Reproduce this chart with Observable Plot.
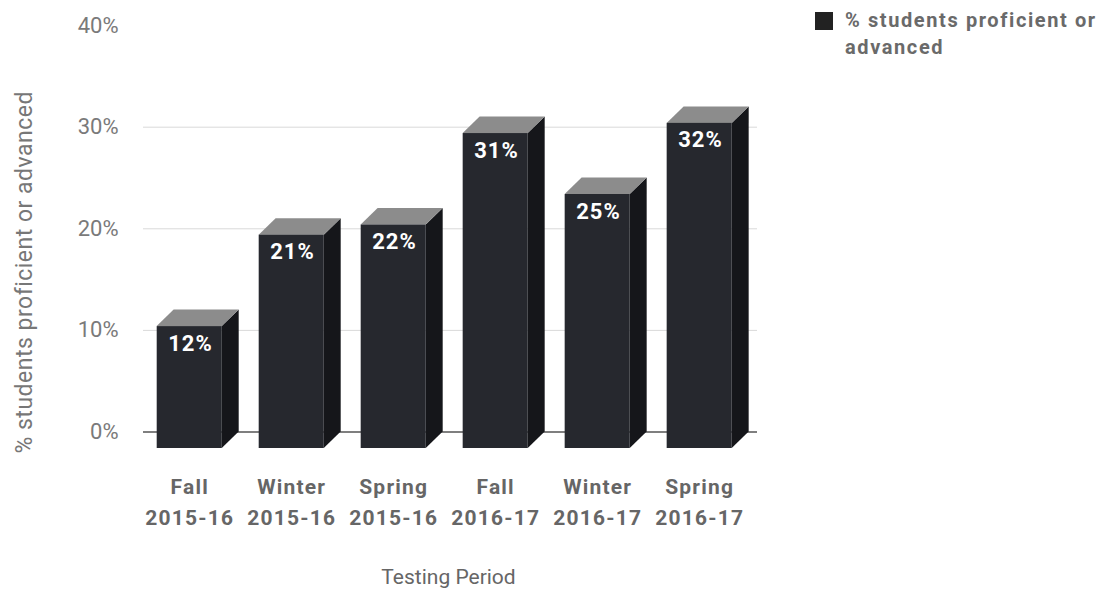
<!DOCTYPE html>
<html>
<head>
<meta charset="utf-8">
<script src="https://cdn.jsdelivr.net/npm/d3@7"></script>
<script src="https://cdn.jsdelivr.net/npm/@observablehq/plot@0.6"></script>
<style>
  body { margin: 0; background: #fff; font-family: Roboto, "Noto Sans", sans-serif; }
  #wrap { position: relative; width: 1108px; height: 591px; overflow: hidden; }
  #legend { position: absolute; left: 815px; top: 7px; display: flex; align-items: flex-start; }
  #legend .sw { width: 18px; height: 18px; background: #222; margin-top: 5px; margin-right: 12px; flex: none; }
  #legend .lbl { font: bold 20px Roboto, sans-serif; color: #6a6a6a; line-height: 27px; width: 280px; letter-spacing: 1.6px; }
  .xlab text { letter-spacing: 1.2px; }
  .ytitle text { letter-spacing: 0.5px; }
  .vlab text { letter-spacing: 1px; }
</style>
</head>
<body>
<div id="wrap">
  <div id="chart"></div>
  <div id="legend"><div class="sw"></div><div class="lbl">% students proficient or<br>advanced</div></div>
</div>
<script>
// ---- data ----
const seasons = ["Fall", "Winter", "Spring", "Fall", "Winter", "Spring"];
const years = ["2015-16", "2015-16", "2015-16", "2016-17", "2016-17", "2016-17"];
const values = [12, 21, 22, 31, 25, 32];
const yTicks = [0, 10, 20, 30, 40];
const gridTicks = [10, 20, 30];
const yTitle = "% students proficient or advanced";
const xTitle = "Testing Period";

// ---- 3D geometry (in scale units) ----
const HW = 0.319;   // half width of front face
const DX = 0.166;   // depth offset along x
const DY = 1.62;    // depth offset along y
const PX = 17, PY = -16.5; // same depth in pixels for grid/axis

const rows = values.map((v, i) => ({i, v, season: seasons[i], year: years[i]}));

const topPts = rows.flatMap(d => {
  const l = d.i - HW, r = d.i + HW;
  return [
    {i: d.i, x: l, y1: d.v, y2: d.v},
    {i: d.i, x: l + DX, y1: d.v, y2: d.v + DY},
    {i: d.i, x: r, y1: d.v, y2: d.v + DY},
    {i: d.i, x: r + DX, y1: d.v + DY, y2: d.v + DY}
  ];
});
const sidePts = rows.flatMap(d => {
  const r = d.i + HW;
  return [
    {i: d.i, x: r, y1: 0, y2: d.v},
    {i: d.i, x: r + DX, y1: DY, y2: d.v + DY}
  ];
});

const FRONT = "#26282e", TOP = "#8c8c8c", SIDE = "#15161a";

const chart = Plot.plot({
  width: 1108,
  height: 591,
  marginLeft: 126,
  marginRight: 368,
  marginTop: 41.6,
  marginBottom: 143,
  style: {fontFamily: "Roboto, sans-serif", background: "white"},
  x: {domain: [-0.62, 5.4], axis: null},
  y: {domain: [0, 40], axis: null},
  marks: [
    Plot.gridY(gridTicks, {dx: PX, dy: PY, stroke: "#d9d9d9", strokeOpacity: 1}),
    Plot.ruleY([0], {dx: PX, dy: PY, stroke: "#555", strokeWidth: 1.5}),
    Plot.axisY(yTicks, {
      tickFormat: d => d + "%", tickSize: 0, tickPadding: 8, dy: PY,
      fontSize: 22, fill: "#7a7a7a", label: null
    }),
    Plot.text([yTitle], {
      frameAnchor: "left", textAnchor: "middle", rotate: -90, dx: -102, dy: 27,
      fontSize: 23, fill: "#777", className: "ytitle"
    }),
    Plot.areaY(sidePts, {x: "x", y1: "y1", y2: "y2", z: "i", fill: SIDE}),
    Plot.areaY(topPts, {x: "x", y1: "y1", y2: "y2", z: "i", fill: TOP}),
    Plot.rect(rows, {x1: d => d.i - HW, x2: d => d.i + HW, y1: 0, y2: "v", fill: FRONT}),
    Plot.text(rows, {
      x: d => d.i - HW, y: "v", text: d => d.v + "%",
      textAnchor: "start", dx: 11, dy: 17,
      fill: "white", fontWeight: "bold", fontSize: 22, className: "vlab"
    }),
    Plot.axisX(d3.range(values.length), {
      tickFormat: i => seasons[i] + "\n" + years[i],
      tickSize: 0, tickPadding: 24, fontSize: 21, fontWeight: "bold",
      fill: "#666", lineHeight: 1.45, label: null, className: "xlab"
    }),
    Plot.text([xTitle], {
      frameAnchor: "bottom", dy: 135, dx: 15, fontSize: 21, fill: "#666"
    })
  ]
});
document.getElementById("chart").appendChild(chart);
</script>
</body>
</html>
